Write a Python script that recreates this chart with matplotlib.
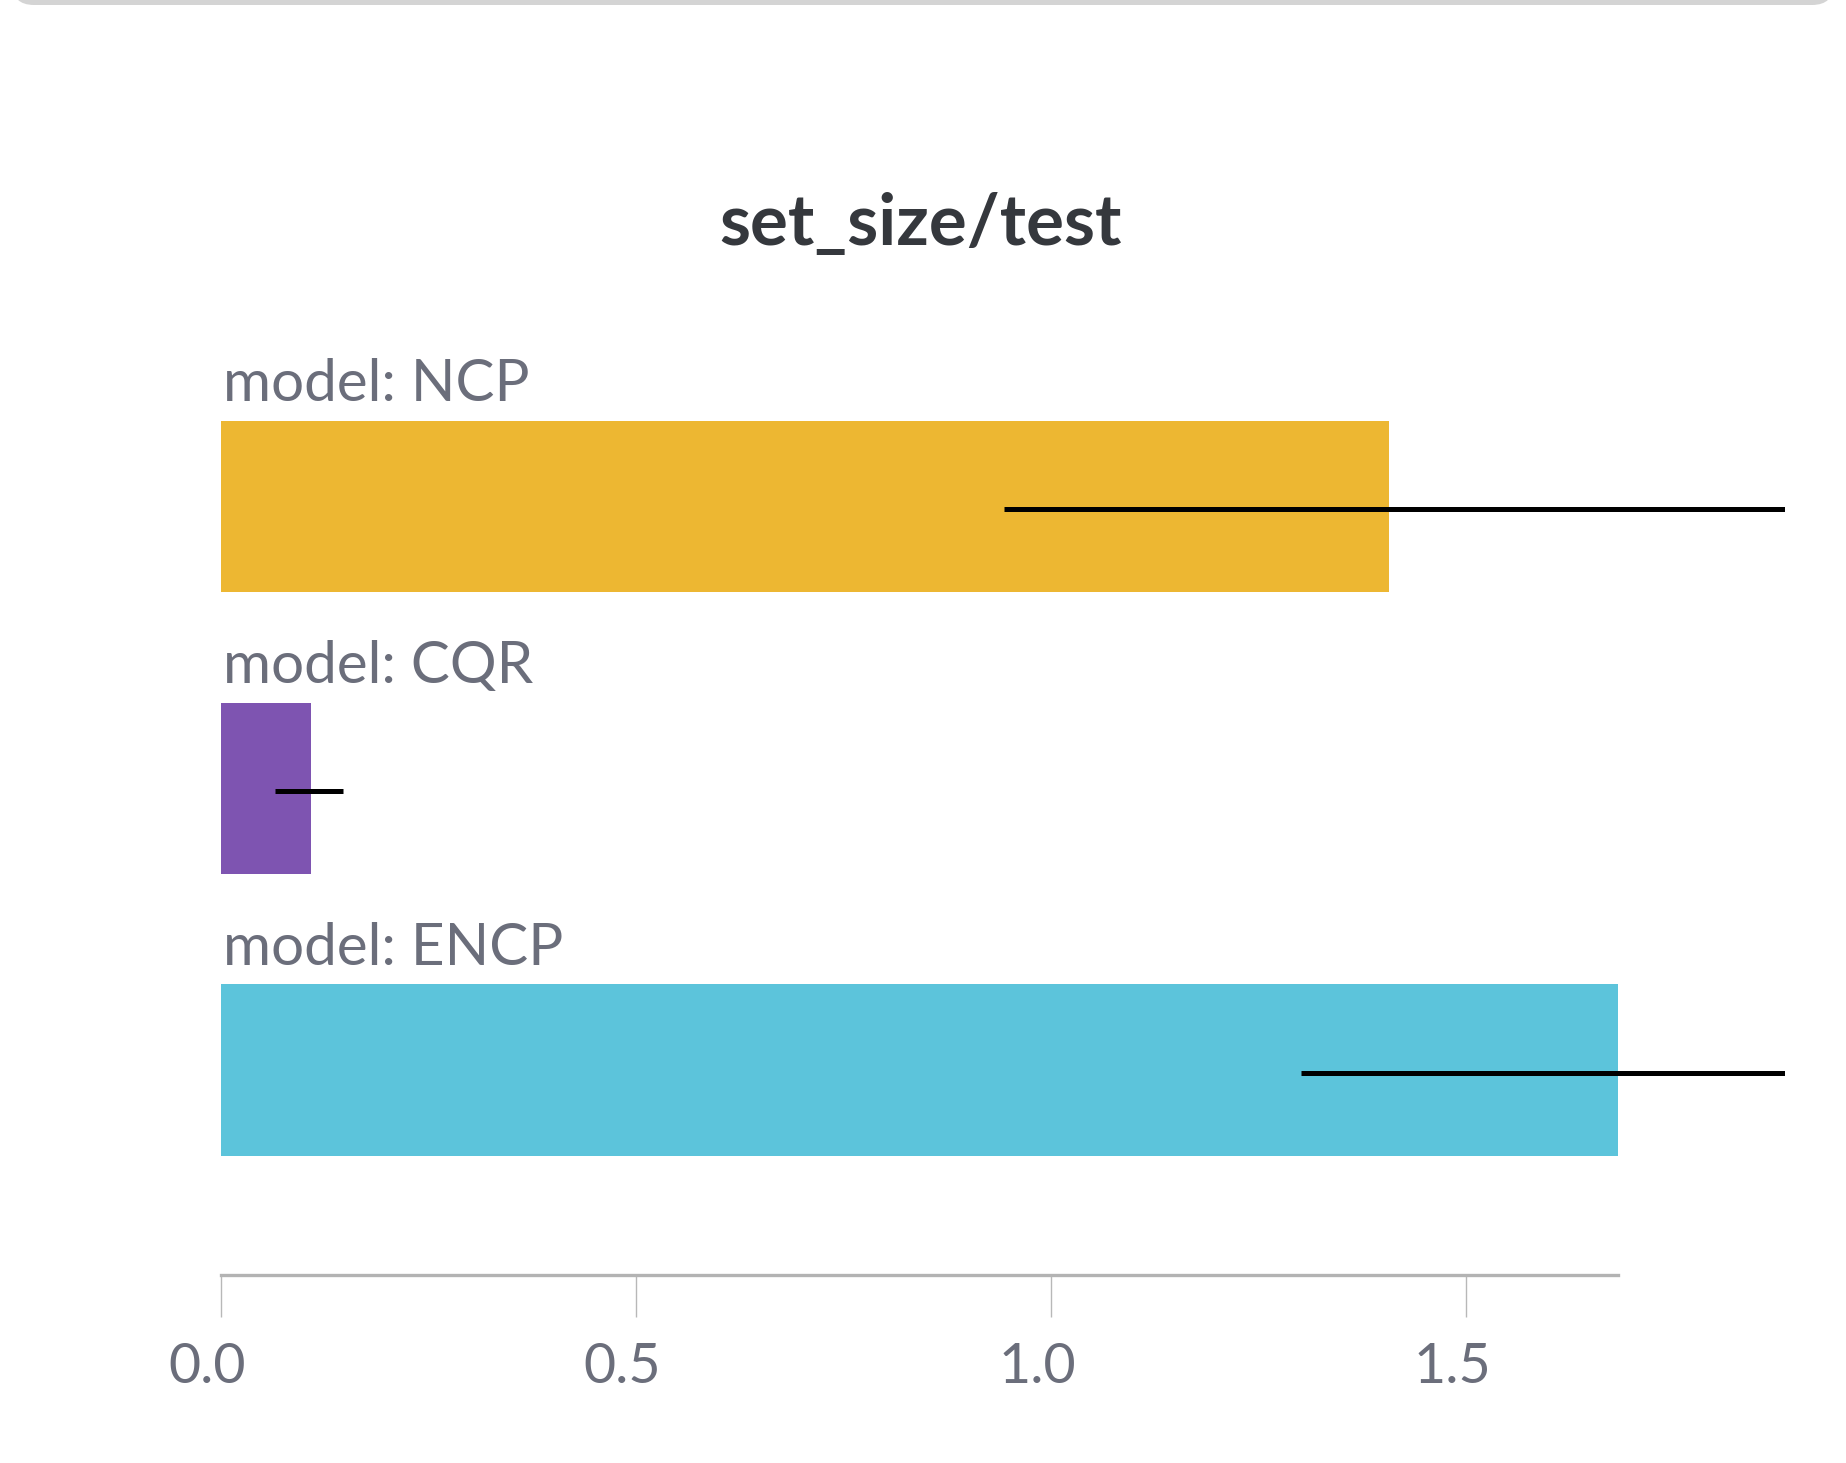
import matplotlib
matplotlib.use("Agg")
import matplotlib.pyplot as plt
import matplotlib.transforms as mtransforms
from matplotlib.patches import FancyBboxPatch

# values
models = ["NCP", "CQR", "ENCP"]
set_size = [1.407, 0.108, 1.683]
err_low = [0.464, 0.043, 0.382]
err_high = [0.478, 0.039, 0.382]
bar_colors = ["#EDB732", "#7E54B1", "#5CC4DB"]
ticks = [0.0, 0.5, 1.0, 1.5]

plt.rcParams['font.family'] = ['Lato', 'DejaVu Sans']

W, H = 1846, 1463
fig = plt.figure(figsize=(W / 100, H / 100), dpi=100, facecolor='white')

# card border peeking in at the top
card = FancyBboxPatch((12, H - 5), 1822, 60, boxstyle="round,pad=0,rounding_size=22",
                      transform=None, facecolor='#d4d4d4', edgecolor='none')
fig.patches.append(card)

ax = fig.add_axes([221 / W, 1 - 1275 / H, (1785 - 221) / W, (1275 - 337.4) / H])

ypos = list(range(len(models)))
bar_h = 0.607
ax.barh(ypos, set_size, height=bar_h, color=bar_colors, edgecolor='none', zorder=2)
# error lines sit a hair below the bar centres in the original
err_shift = mtransforms.ScaledTranslation(0, -3 / 100, fig.dpi_scale_trans)
eb = ax.errorbar(set_size, ypos, xerr=[err_low, err_high], fmt='none', ecolor='black',
                 elinewidth=3.6, capsize=0, zorder=3)
for coll in eb.lines[2]:
    coll.set_transform(ax.transData + err_shift)

for y, name in zip(ypos, models):
    ax.text(0.003, y - 0.374, f"model: {name}", ha='left', va='baseline',
            fontsize=42, color='#6b6e7b')

ax.set_xlim(0, 1.884)
ax.set_ylim(2 + (1275 - 1070) / 281.75, -0.6)
for s in ['top', 'right', 'left']:
    ax.spines[s].set_visible(False)
ax.spines['bottom'].set_bounds(0, max(set_size))
ax.spines['bottom'].set_color('#b3b3b3')
ax.spines['bottom'].set_linewidth(2.4)
ax.set_yticks([])
ax.set_xticks(ticks)
ax.set_xticklabels([f"{t:.1f}" for t in ticks])
ax.tick_params(axis='x', direction='out', length=30, width=1.0, color='#b8b8b8',
               pad=18, labelsize=40, labelcolor='#6b6e7b')
# tick labels are set slightly left of their ticks
lbl_shift = mtransforms.ScaledTranslation(-14 / 100, 0, fig.dpi_scale_trans)
for lbl in ax.get_xticklabels():
    lbl.set_transform(lbl.get_transform() + lbl_shift)

fig.text(920.5 / W, 1 - 245 / H, "set_size/test", ha='center', va='baseline',
         fontsize=51, fontweight='bold', color='#35383d')

fig.savefig("out.png", dpi=100, facecolor='white')
